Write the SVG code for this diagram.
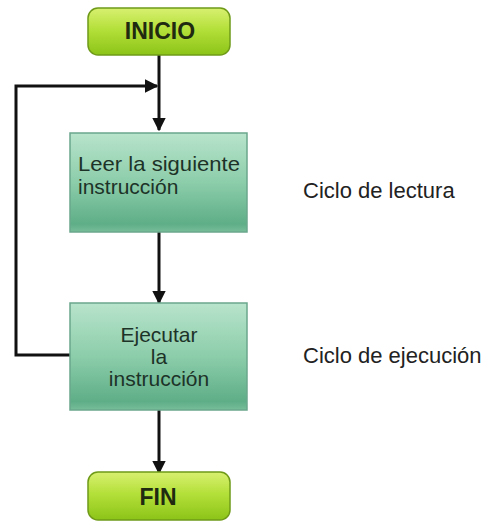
<svg xmlns="http://www.w3.org/2000/svg" width="484" height="522" viewBox="0 0 484 522">
<style>
.term{fill:url(#gLime);stroke:#6f9a18;stroke-width:1.5}
.proc{fill:url(#gTeal);stroke:#6aa78c;stroke-width:1.5}
.tt{font-family:"Liberation Sans",Arial,sans-serif;font-size:23px;font-weight:bold;fill:#1f2a10;text-anchor:middle}
.pt{font-family:"Liberation Sans",Arial,sans-serif;font-size:21px;fill:#1d3328}
.lab{font-family:"Liberation Sans",Arial,sans-serif;font-size:22px;fill:#222}
.ln{fill:none;stroke:#111;stroke-width:3}
</style>
<defs>
<linearGradient id="gLime" x1="0" y1="0" x2="0" y2="1">
<stop offset="0" stop-color="#d8f070"/>
<stop offset="0.45" stop-color="#b4e03a"/>
<stop offset="1" stop-color="#8cc418"/>
</linearGradient>
<linearGradient id="gTeal" x1="0" y1="0" x2="0" y2="1">
<stop offset="0" stop-color="#b8e4cc"/>
<stop offset="0.5" stop-color="#8ccdaa"/>
<stop offset="0.92" stop-color="#5eae88"/>
<stop offset="1" stop-color="#78bd9a"/>
</linearGradient>
<marker id="ah" viewBox="0 0 10 10" refX="9" refY="5" markerWidth="4.5" markerHeight="4.5" orient="auto" markerUnits="strokeWidth">
<path d="M0,0 L10,5 L0,10 z" fill="#111"/>
</marker>
</defs>
<rect width="484" height="522" fill="#fff"/>
<g id="connectors">
<line class="ln" x1="159" y1="55" x2="159" y2="130" marker-end="url(#ah)"/>
<polyline class="ln" points="70,355 16,355 16,86 157,86" marker-end="url(#ah)"/>
<line class="ln" x1="159" y1="232" x2="159" y2="303" marker-end="url(#ah)"/>
<line class="ln" x1="159" y1="410" x2="159" y2="473" marker-end="url(#ah)"/>
</g>
<g id="inicio">
<rect class="term" x="88" y="8" width="142" height="47" rx="10"/>
<text class="tt" x="160" y="39">INICIO</text>
</g>
<g id="leer">
<rect class="proc" x="70" y="133" width="177" height="99"/>
<text class="pt" x="78" y="171" textLength="162" lengthAdjust="spacingAndGlyphs">Leer la siguiente</text>
<text class="pt" x="78" y="194">instrucción</text>
</g>
<g id="ejecutar">
<rect class="proc" x="70" y="303" width="177" height="107"/>
<text class="pt" x="159" y="342" text-anchor="middle">Ejecutar</text>
<text class="pt" x="159" y="364" text-anchor="middle">la</text>
<text class="pt" x="159" y="386" text-anchor="middle">instrucción</text>
</g>
<g id="fin">
<rect class="term" x="88" y="472" width="142" height="48" rx="10"/>
<text class="tt" x="158" y="505">FIN</text>
</g>
<g id="labels">
<text class="lab" x="303" y="198">Ciclo de lectura</text>
<text class="lab" x="303" y="363">Ciclo de ejecución</text>
</g>
</svg>
